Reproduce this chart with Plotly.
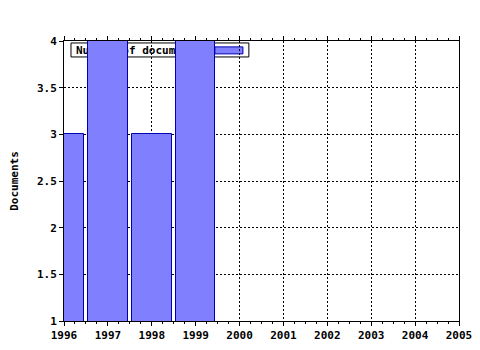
import plotly.graph_objects as go

years = [1996, 1997, 1998, 1999]
documents = [3, 4, 3, 4]
series_name = "Number of documents"
y_title = "Documents"
x_ticks = list(range(1996, 2006))
y_ticks = [1, 1.5, 2, 2.5, 3, 3.5, 4]

FONT = dict(family="DejaVu Sans Mono", size=11, color="black", weight="bold")
BAR_FILL = "#8080ff"
BAR_LINE = "#0000b0"

fig = go.Figure()
fig.add_trace(go.Bar(
    x=years, y=documents, width=0.9, name=series_name,
    marker=dict(color=BAR_FILL, line=dict(color=BAR_LINE, width=1)),
    showlegend=False,
))

# Legend drawn beneath the bars (as in the reference)
fig.add_shape(type="rect", xref="paper", yref="paper",
              x0=0.0177, x1=0.468, y0=0.943, y1=0.993,
              fillcolor="white", line=dict(color="black", width=1),
              layer="between",
              label=dict(text=series_name, textposition="middle left",
                         font=FONT, padding=2))
fig.add_shape(type="rect", xref="paper", yref="paper",
              x0=0.382, x1=0.453, y0=0.954, y1=0.979,
              fillcolor=BAR_FILL, line=dict(color=BAR_LINE, width=1),
              layer="between")

fig.update_layout(
    width=480, height=350,
    margin=dict(l=64, r=21, t=41, b=29, autoexpand=False),
    paper_bgcolor="white", plot_bgcolor="white",
    font=FONT,
    showlegend=False,
    bargap=0,
)
fig.update_xaxes(
    range=[1996, 2005], tickvals=x_ticks, ticktext=[str(t) for t in x_ticks],
    showline=True, linecolor="black", linewidth=1, mirror="allticks",
    ticks="outside", ticklen=4, tickcolor="black",
    showgrid=True, gridcolor="black", gridwidth=1, griddash="2px,2px",
    minor=dict(dtick=0.25, ticks="outside", ticklen=2, tickcolor="black", showgrid=False),
    zeroline=False, tickfont=FONT, automargin=False,
)
fig.update_yaxes(
    range=[1, 4], tickvals=y_ticks, ticktext=[("%g" % t) for t in y_ticks],
    showline=True, linecolor="black", linewidth=1, mirror=True,
    ticks="outside", ticklen=4, tickcolor="black",
    showgrid=True, gridcolor="black", gridwidth=1, griddash="2px,2px",
    zeroline=False, tickfont=FONT, automargin=False,
    title=dict(text=y_title, font=FONT, standoff=16),
)

fig.write_html("out.html")
